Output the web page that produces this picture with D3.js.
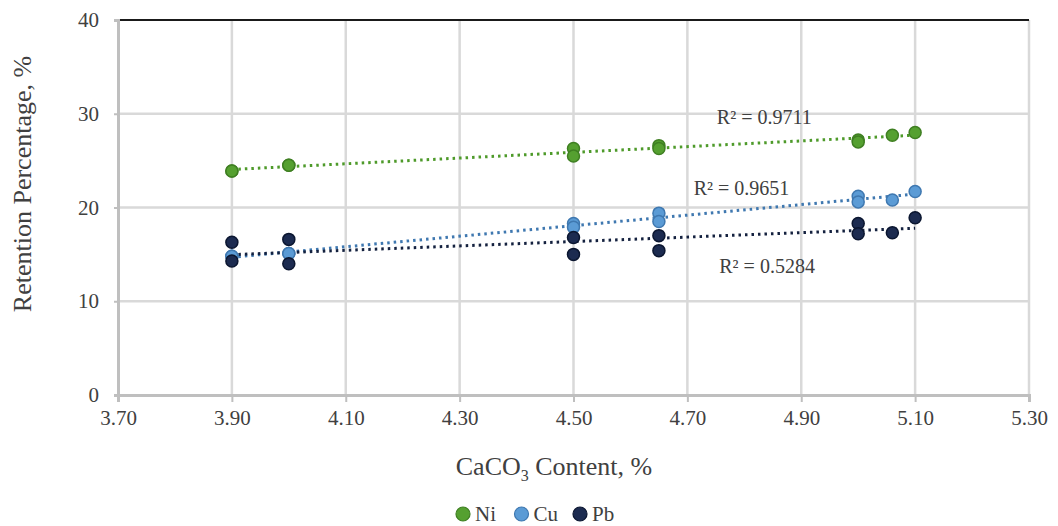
<!DOCTYPE html>
<html>
<head>
<meta charset="utf-8">
<script src="https://cdn.jsdelivr.net/npm/d3@7"></script>
<style>
  body { margin: 0; background: #fff; }
  text { font-family: "Liberation Serif", "Times New Roman", serif; fill: #404040; }
</style>
</head>
<body>
<script>
// CaCO3 content for each sample (%)
const content = [3.9, 3.9, 4.0, 4.0, 4.5, 4.5, 4.65, 4.65, 5.0, 5.0, 5.06, 5.1];
// retention percentage per metal
const ni = [23.9, 23.9, 24.5, 24.5, 26.3, 25.5, 26.6, 26.3, 27.2, 27.0, 27.7, 28.0];
const cu = [14.8, 14.8, 15.1, 15.1, 18.3, 17.9, 19.4, 18.5, 21.2, 20.6, 20.8, 21.7];
const pb = [16.3, 14.3, 16.6, 14.0, 16.8, 15.0, 17.0, 15.4, 18.3, 17.2, 17.3, 18.9];
const r2Labels = ["R² = 0.9711", "R² = 0.9651", "R² = 0.5284"];

const xTicks = [3.7, 3.9, 4.1, 4.3, 4.5, 4.7, 4.9, 5.1, 5.3];
const yTicks = [0, 10, 20, 30, 40];

const series = [
  { name: "Ni", values: ni, fill: "#55a030", stroke: "#3f7f22", line: "#4e9a2a", r2: r2Labels[0], lab: [4.835, 28.9] },
  { name: "Cu", values: cu, fill: "#5b9bd5", stroke: "#3f78b0", line: "#3f78b0", r2: r2Labels[1], lab: [4.795, 21.3] },
  { name: "Pb", values: pb, fill: "#1c2b50", stroke: "#0b1630", line: "#14213f", r2: r2Labels[2], lab: [4.84, 13.0] }
];

const W = 1058, H = 526;
const margin = { top: 20, right: 29, bottom: 131, left: 118 };
const width = W - margin.left - margin.right;
const height = H - margin.top - margin.bottom;

const x = d3.scaleLinear().domain([3.7, 5.3]).range([0, width]);
const y = d3.scaleLinear().domain([0, 40]).range([height, 0]);

const svg = d3.select("body").append("svg").attr("width", W).attr("height", H);
const g = svg.append("g").attr("transform", "translate(" + margin.left + "," + margin.top + ")");

// grid
g.selectAll(".vgrid").data(xTicks.slice(1)).enter().append("line")
  .attr("x1", d => x(d)).attr("x2", d => x(d)).attr("y1", 0).attr("y2", height)
  .attr("stroke", "#d9d9d9").attr("stroke-width", 2.5);
g.selectAll(".hgrid").data(yTicks.slice(1)).enter().append("line")
  .attr("x1", 0).attr("x2", width).attr("y1", d => y(d)).attr("y2", d => y(d))
  .attr("stroke", d => d === 40 ? "#1a1a1a" : "#d9d9d9").attr("stroke-width", d => d === 40 ? 2 : 2.5);

// axes
const xAxis = g.append("g").attr("transform", "translate(0," + height + ")")
  .call(d3.axisBottom(x).tickValues(xTicks).tickFormat(d3.format(".2f")).tickSize(7).tickPadding(8));
const yAxis = g.append("g")
  .call(d3.axisLeft(y).tickValues(yTicks).tickSize(4).tickPadding(15));
[xAxis, yAxis].forEach(a => {
  a.select(".domain").attr("stroke", "#bfbfbf").attr("stroke-width", 3);
  a.selectAll(".tick line").attr("stroke", "#bfbfbf").attr("stroke-width", 2);
  a.selectAll(".tick text").style("font-family", "Liberation Serif").style("font-size", "21px").attr("fill", "#404040");
});

// trendlines (least squares fit)
function fit(xs, ys) {
  const mx = d3.mean(xs), my = d3.mean(ys);
  const sxy = d3.sum(xs, (v, i) => (v - mx) * (ys[i] - my));
  const sxx = d3.sum(xs, v => (v - mx) * (v - mx));
  const b = sxy / sxx;
  return t => my + b * (t - mx);
}
const [x0, x1] = d3.extent(content);

series.forEach(s => {
  const f = fit(content, s.values);
  g.append("line")
    .attr("x1", x(x0)).attr("y1", y(f(x0))).attr("x2", x(x1)).attr("y2", y(f(x1)))
    .attr("stroke", s.line).attr("stroke-width", 3).attr("stroke-dasharray", "2.5,4");
});

series.forEach(s => {
  g.selectAll(null).data(s.values).enter().append("circle")
    .attr("cx", (d, i) => x(content[i])).attr("cy", d => y(d)).attr("r", 6)
    .attr("fill", s.fill).attr("stroke", s.stroke).attr("stroke-width", 1.5);
});

series.forEach(s => {
  g.append("text").attr("x", x(s.lab[0])).attr("y", y(s.lab[1]))
    .attr("text-anchor", "middle").style("font-size", "20px").attr("fill", "#404040").text(s.r2);
});

// axis titles
const xt = svg.append("text").attr("x", 554).attr("y", 475).attr("text-anchor", "middle").style("font-size", "26px");
xt.append("tspan").text("CaCO");
xt.append("tspan").attr("dy", 6).style("font-size", "16px").text("3");
xt.append("tspan").attr("dy", -6).text(" Content, %");

svg.append("text").attr("transform", "translate(31,184) rotate(-90)")
  .attr("text-anchor", "middle").style("font-size", "26px").text("Retention Percentage, %");

// legend
const leg = svg.append("g").attr("transform", "translate(463,514)");
series.forEach((s, i) => {
  const lg = leg.append("g").attr("transform", "translate(" + (i * 58.5) + ",0)");
  lg.append("circle").attr("r", 7).attr("fill", s.fill).attr("stroke", s.stroke).attr("stroke-width", 1.2);
  lg.append("text").attr("x", 12).attr("y", 7).style("font-size", "21px").text(s.name);
});
</script>
</body>
</html>
